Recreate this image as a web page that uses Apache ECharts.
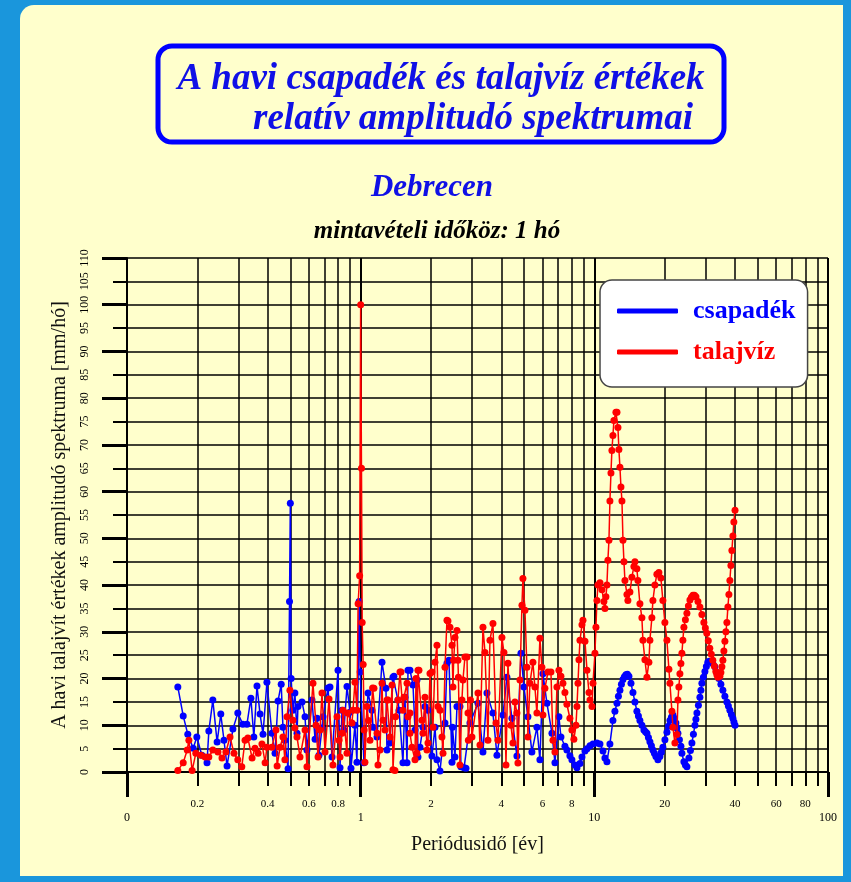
<!DOCTYPE html>
<html>
<head>
<meta charset="utf-8">
<script src="https://cdn.jsdelivr.net/npm/echarts@6/dist/echarts.min.js"></script>
<style>
html,body{margin:0;padding:0;background:#1a96dc;}
#chart{width:851px;height:882px;}
</style>
</head>
<body>
<div id="chart"></div>
<script>
// ---- data (period in years, relative amplitude) ----
const csapadekPeriod = [0.165,0.174,0.182,0.192,0.199,0.209,0.220,0.224,0.233,0.243,0.252,0.260,0.268,0.284,0.298,0.313,0.326,0.339,0.349,0.360,0.371,0.382,0.397,0.417,0.430,0.443,0.457,0.465,0.474,0.489,0.496,0.500,0.504,0.513,0.523,0.534,0.539,0.561,0.578,0.589,0.619,0.638,0.650,0.663,0.683,0.690,0.725,0.739,0.754,0.800,0.816,0.832,0.848,0.874,0.900,0.909,0.945,0.985,0.995,1.033,1.075,1.129,1.234,1.283,1.335,1.388,1.444,1.547,1.579,1.626,1.675,1.708,1.742,1.794,1.885,2.019,2.080,2.185,2.295,2.387,2.459,2.583,2.686,2.823,2.936,3.177,3.337,3.471,3.682,3.830,4.063,4.226,4.440,4.664,4.852,4.996,5.197,5.405,5.680,5.850,6.026,6.269,6.586,6.783,7.055,7.196,7.485,7.631,7.860,8.016,8.257,8.427,8.680,8.853,9.118,9.301,9.580,9.867,10.26,10.57,10.89,11.10,11.32,11.66,12.01,12.50,12.87,13.26,13.65,14.06,14.63,15.21,15.67,16.30,16.79,17.29,17.81,18.34,18.71,19.08,19.65,20.45,21.06,21.69,22.34,22.79,23.47,23.70,24.17,24.90,25.40,26.16,26.95,27.48,28.30,28.86,29.73,30.59,31.51,32.78,34.12,35.49,36.92,38.03,39.17,40.0,
  0.964,1.118,1.175,1.296,1.375,1.46,1.517,1.594,1.759,1.848,1.941,2.121,2.341,2.47,2.533,2.66,2.77,
  12.25,12.68,13.06,13.45,13.85,14.35,14.92,15.44,15.98,16.55,17.04,17.55,18.07,19.36,20.05,20.75,21.37,22.0,22.56,23.13,24.53,25.78,26.55,27.21,27.89,28.58,29.29,30.16,31.05,32.14,33.45,34.80,36.20,37.47,38.60,39.58];
const csapadekValue = [18.2,12.0,8.1,5.1,7.5,3.6,2.0,8.8,15.4,6.4,12.4,6.8,1.3,9.2,12.6,10.2,10.2,15.8,7.5,18.4,12.4,8.1,19.2,8.3,4.0,15.2,18.8,9.6,6.8,0.7,36.5,57.5,20.0,13.2,16.9,8.3,14.0,15.0,11.8,4.7,15.4,7.0,11.5,3.6,9.4,11.8,18.0,18.2,3.2,21.8,0.9,13.2,9.0,18.3,12.8,0.8,10.0,36.5,21.4,2.0,16.9,9.6,23.5,17.9,6.2,20.5,15.4,16.0,2.0,21.8,18.6,9.0,19.7,5.3,14.0,3.4,9.6,0.2,10.5,23.9,2.1,14.0,1.1,0.8,10.5,14.7,4.3,16.9,12.6,3.6,12.2,20.3,11.5,3.4,25.4,18.2,11.8,4.3,9.6,2.6,21.0,14.7,8.3,2.0,11.8,7.5,5.5,4.7,3.5,2.6,1.5,0.9,1.8,3.2,4.5,5.0,5.6,6.0,6.2,6.0,4.5,3.0,2.2,6.0,11.0,14.7,17.5,19.8,20.8,20.5,17.0,13.0,11.0,9.0,8.3,6.5,4.7,3.3,2.6,3.3,5.3,8.5,11.0,12.2,10.5,8.3,5.5,4.0,2.2,1.1,3.0,6.2,10.0,12.6,16.0,19.0,21.5,23.5,23.6,22.5,20.0,17.5,15.0,13.2,11.5,10.0,
  2.1,13.2,7.5,4.7,20.3,13.2,2.0,21.8,3.2,9.6,13.2,2.6,23.3,9.6,3.2,14.0,0.9,
  13.0,16.2,18.8,20.4,20.9,19.0,15.0,12.0,10.0,8.6,7.4,5.6,4.0,4.2,6.9,9.8,11.7,11.5,9.4,6.9,1.5,4.6,8.1,11.3,14.3,17.5,20.3,22.6,23.7,23.2,21.3,18.8,16.2,14.1,12.3,10.7];

const talajvizPeriod = [0.165,0.174,0.181,0.184,0.190,0.197,0.207,0.216,0.224,0.233,0.245,0.255,0.265,0.276,0.287,0.298,0.310,0.320,0.329,0.343,0.353,0.364,0.378,0.390,0.397,0.417,0.434,0.439,0.452,0.465,0.474,0.484,0.498,0.513,0.523,0.534,0.550,0.578,0.589,0.625,0.644,0.657,0.670,0.683,0.704,0.732,0.761,0.792,0.808,0.816,0.840,0.874,0.918,0.945,0.964,0.975,0.990,1.000,1.008,1.015,1.025,1.035,1.043,1.064,1.096,1.140,1.186,1.234,1.271,1.309,1.362,1.402,1.444,1.488,1.532,1.579,1.594,1.626,1.658,1.725,1.742,1.776,1.848,1.922,2.019,2.080,2.121,2.142,2.228,2.295,2.364,2.411,2.459,2.483,2.533,2.608,2.660,2.740,2.851,2.879,2.994,3.177,3.240,3.337,3.404,3.505,3.575,3.682,3.793,3.868,4.023,4.103,4.187,4.268,4.396,4.484,4.573,4.664,4.710,4.804,4.900,4.948,5.047,5.146,5.197,5.300,5.459,5.568,5.680,5.850,5.966,6.026,6.145,6.331,6.521,6.651,6.783,6.918,7.055,7.196,7.339,7.485,7.631,7.860,8.016,8.174,8.345,8.427,8.511,8.595,8.680,8.853,8.940,9.118,9.301,9.486,9.580,9.771,9.867,10.06,10.16,10.26,10.36,10.57,10.78,10.99,11.10,11.21,11.32,11.43,11.55,11.66,11.78,11.89,12.01,12.13,12.37,12.50,12.62,12.74,12.87,13.00,13.13,13.26,13.39,13.52,13.79,13.92,14.20,14.48,14.77,14.92,15.21,15.36,15.67,15.98,16.14,16.46,16.79,17.12,17.29,17.63,17.81,18.16,18.52,18.89,19.27,19.65,20.04,20.45,20.85,21.06,21.48,21.69,22.12,22.56,22.79,23.24,23.70,24.17,24.90,25.65,26.42,27.22,28.30,29.43,30.29,31.20,32.14,33.11,33.79,34.46,35.15,35.49,36.20,36.92,37.29,38.03,38.79,39.17,39.55,40.0,
  0.832,0.878,0.927,1.080,1.125,1.175,1.210,1.246,1.296,1.335,1.375,1.41,1.473,1.517,1.626,1.708,1.759,1.830,1.885,1.941,1.98,2.039,2.185,2.251,2.341,2.50,2.583,2.62,2.713,2.794,2.89,2.95,
  23.0,23.47,23.93,24.53,25.27,26.03,26.82,27.76,28.86,29.86,30.74,31.67,32.62,33.45,34.80,35.84,36.56,37.66,38.41];
const talajvizValue = [0.3,2.0,4.7,6.8,0.3,4.0,3.6,3.2,3.2,4.7,4.3,3.0,4.3,7.5,4.0,2.6,1.1,6.8,7.3,3.0,5.1,4.0,6.0,2.0,5.3,5.3,9.0,1.3,5.3,7.5,2.6,11.8,17.5,11.1,9.4,7.5,3.2,9.0,1.1,19.0,10.0,3.2,9.0,16.9,4.3,15.6,1.5,11.8,6.8,3.2,13.2,4.0,10.5,19.2,13.2,36.0,42.0,100.0,65.0,32.0,23.0,9.0,2.1,14.0,6.8,17.9,1.5,19.0,9.0,15.4,18.6,0.3,15.4,21.4,16.0,19.0,11.8,12.6,5.3,20.0,4.0,21.8,8.3,4.7,21.4,23.5,27.1,14.0,7.5,22.4,32.3,31.0,27.1,18.2,28.8,23.9,1.5,19.7,24.6,12.6,7.5,16.9,5.8,31.0,25.6,6.8,28.2,31.8,10.5,6.8,28.8,25.6,1.5,23.3,10.0,6.2,15.0,12.6,1.9,19.7,35.7,41.4,34.6,22.4,7.5,19.0,23.5,18.2,12.6,28.6,22.4,12.2,17.9,21.4,21.4,6.8,4.3,18.2,21.8,20.5,19.0,17.0,14.5,11.5,9.0,7.0,10.0,14.0,19.0,24.0,28.2,31.5,32.5,28.0,21.8,17.0,15.4,14.0,19.0,25.4,31.0,36.7,40.0,40.5,39.0,36.5,35.0,37.5,40.0,45.3,49.6,58.0,64.0,68.8,72.0,75.2,77.0,77.0,73.7,69.0,65.2,61.0,58.0,49.6,45.0,41.0,38.0,36.7,38.5,41.7,44.0,45.0,43.5,41.0,36.0,33.0,28.2,24.0,20.3,23.5,28.2,33.0,36.7,40.0,42.3,42.7,41.5,36.7,32.0,28.2,22.0,19.0,13.0,9.6,6.2,8.0,15.4,21.0,25.4,31.0,34.0,36.8,37.8,37.5,35.3,32.0,29.7,26.5,23.9,21.5,20.3,20.5,22.5,23.9,28.0,32.0,35.3,41.0,47.4,50.5,53.5,56.0,
  8.3,12.6,13.2,11.0,18.0,8.3,4.7,11.1,15.4,7.5,0.5,11.8,21.4,13.2,8.3,2.6,21.8,11.1,16.0,6.2,21.1,9.6,13.2,4.0,32.5,23.9,30.3,20.3,15.4,24.6,6.8,15.4,
  18.2,23.2,28.2,32.6,35.5,37.4,37.8,36.5,33.7,30.8,28.1,25.2,22.7,20.8,21.3,25.9,30.0,38.0,44.2];

// tick positions / labels of the log period axis
const xMinorTicks = [0.2,0.3,0.4,0.5,0.6,0.7,0.8,0.9,2,3,4,5,6,7,8,9,20,30,40,50,60,70,80,90];
const xMinorLabels = [0.2,0.4,0.6,0.8,2,4,6,8,20,40,60,80];
const xMajorTicks = [0.1,1,10,100];
const xMajorLabels = ['0','1','10','100'];

const seriesNames = ['csapadék','talajvíz'];
const FONT = '"Liberation Serif", "Times New Roman", serif';

// pair periods with values and order them along the period axis
function pairs(p,v){return p.map((x,i)=>[x,v[i]]).sort((a,b)=>a[0]-b[0]);}

const chart = echarts.init(document.getElementById('chart'), null, {renderer:'canvas'});
const option = {
  animation:false,
  backgroundColor:'#1a96dc',
  graphic:[
    {type:'rect', z:-100, shape:{x:20,y:5,width:823,height:871,r:[14,0,0,0]}, style:{fill:'#ffffcc'}},
    {type:'rect', z:10, shape:{x:158,y:46,width:566,height:96,r:14}, style:{fill:'none',stroke:'#0000ff',lineWidth:5}},
    {type:'text', z:10, x:441, y:79, style:{text:'A havi csapadék és talajvíz értékek', font:'italic bold 37px '+FONT, fill:'#1010e6', align:'center', verticalAlign:'middle', textAlign:'center', textVerticalAlign:'middle'}},
    {type:'text', z:10, x:473, y:119, style:{text:'relatív amplitudó spektrumai', font:'italic bold 37px '+FONT, fill:'#1010e6', align:'center', verticalAlign:'middle', textAlign:'center', textVerticalAlign:'middle'}},
    {type:'text', z:10, x:432, y:188, style:{text:'Debrecen', font:'italic bold 31px '+FONT, fill:'#1010e6', align:'center', verticalAlign:'middle', textAlign:'center', textVerticalAlign:'middle'}},
    {type:'text', z:10, x:437, y:232, style:{text:'mintavételi időköz: 1 hó', font:'italic bold 25px '+FONT, fill:'#000', align:'center', verticalAlign:'middle', textAlign:'center', textVerticalAlign:'middle'}}
  ],
  legend:{
    left:600, top:280, orient:'vertical',
    backgroundColor:'#ffffff', borderColor:'#444', borderWidth:1.5, borderRadius:12,
    padding:[18,12,22,17], itemGap:15, itemWidth:61, itemHeight:5, icon:'roundRect',
    textStyle:{fontFamily:FONT, fontWeight:'bold', fontSize:26, padding:[0,0,0,10]},
    data:[{name:seriesNames[0], textStyle:{color:'#0000ff'}},{name:seriesNames[1], textStyle:{color:'#ff0000'}}]
  },
  grid:{left:127, top:258, width:701, height:514, containLabel:false},
  xAxis:[
    {type:'log', logBase:10, min:0.1, max:100, position:'bottom',
     name:'Periódusidő [év]', nameLocation:'middle', nameGap:63,
     nameTextStyle:{fontFamily:FONT, fontSize:20, color:'#111'},
     axisLine:{show:true, onZero:false, lineStyle:{color:'#000', width:2}},
     axisTick:{show:true, inside:false, length:14, customValues:xMinorTicks, lineStyle:{color:'#000', width:2}},
     axisLabel:{show:true, customValues:xMinorLabels, margin:27, fontFamily:FONT, fontSize:11, color:'#000'},
     splitLine:{show:true, lineStyle:{color:'#000', width:1.5}}
    },
    {type:'log', logBase:10, min:0.1, max:100, position:'bottom',
     axisLine:{show:false},
     axisTick:{show:true, length:25, customValues:xMajorTicks, lineStyle:{color:'#000', width:3}},
     axisLabel:{show:true, customValues:xMajorTicks, margin:40, fontFamily:FONT, fontSize:12, color:'#000',
       formatter:function(v){const i=xMajorTicks.findIndex(t=>Math.abs(t-v)<1e-9*Math.max(1,t)); return i>=0?xMajorLabels[i]:'';}},
     splitLine:{show:true, lineStyle:{color:'#000', width:2}}
    }
  ],
  yAxis:[
    {type:'value', min:0, max:110, interval:5,
     name:'A havi talajvít értékek amplitudó spektruma [mm/hó]', nameLocation:'middle', nameGap:57,
     nameTextStyle:{fontFamily:FONT, fontSize:20, color:'#111'},
     axisLine:{show:true, lineStyle:{color:'#000', width:2}},
     axisTick:{show:true, length:14, lineStyle:{color:'#000', width:2}},
     axisLabel:{show:true, rotate:90, margin:36, fontFamily:FONT, fontSize:12, color:'#000'},
     splitLine:{show:true, lineStyle:{color:'#000', width:1.5}}
    },
    {type:'value', min:0, max:110, interval:10, position:'left',
     axisLine:{show:false}, axisLabel:{show:false}, splitLine:{show:false},
     axisTick:{show:true, length:25, lineStyle:{color:'#000', width:3}}
    }
  ],
  series:[
    {name:seriesNames[0], type:'line', xAxisIndex:0, yAxisIndex:0, data:pairs(csapadekPeriod,csapadekValue),
     symbol:'circle', symbolSize:7, showAllSymbol:true, z:3,
     lineStyle:{color:'#0000ff', width:1.5}, itemStyle:{color:'#0000ff', borderWidth:0}},
    {name:seriesNames[1], type:'line', xAxisIndex:0, yAxisIndex:0, data:pairs(talajvizPeriod,talajvizValue),
     symbol:'circle', symbolSize:7, showAllSymbol:true, z:4,
     lineStyle:{color:'#ff0000', width:1.5}, itemStyle:{color:'#ff0000', borderWidth:0}}
  ]
};
chart.setOption(option);
</script>
</body>
</html>
